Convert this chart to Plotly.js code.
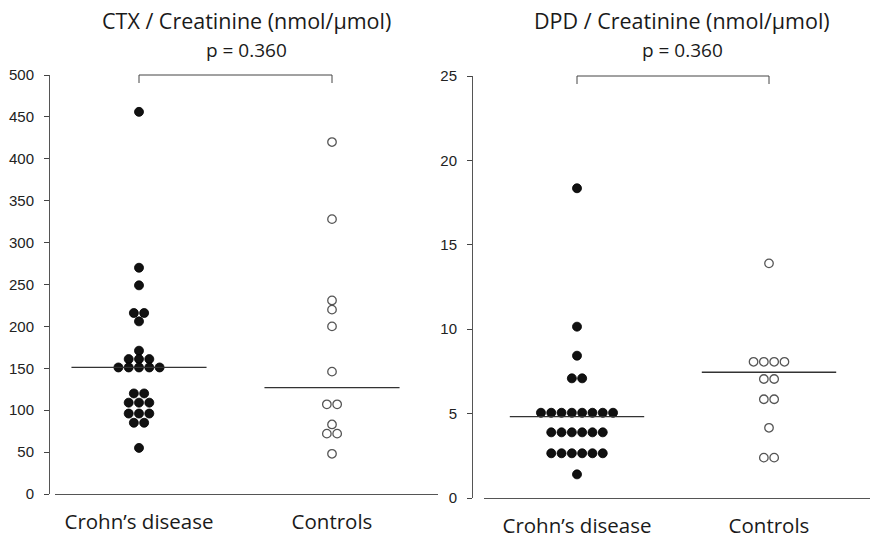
<!DOCTYPE html>
<html><head><meta charset="utf-8">
<script src="https://cdn.plot.ly/plotly-3.0.1.min.js"></script>
<style>html,body{margin:0;padding:0;background:#fff}#chart{width:876px;height:538px}</style>
</head><body><div id="chart"></div>
<script>
// ---- data ----
const groups = ["Crohn\u2019s disease", "Controls"];
const panelTitles = ["CTX / Creatinine (nmol/\u00b5mol)", "DPD / Creatinine (nmol/\u00b5mol)"];
const pLabels = ["p = 0.360", "p = 0.360"];
const ctxCrohn = [456, 270, 249, 216, 216, 206, 171, 161, 161, 161, 151, 151, 151, 151, 151, 120, 120, 109, 109, 109, 96, 96, 96, 85, 85, 55];
const ctxControls = [420, 328, 231, 220, 200, 146, 107, 107, 83, 72, 72, 48];
const dpdCrohn = [18.35, 10.15, 8.43, 7.09, 7.09, 5.05, 5.05, 5.05, 5.05, 5.05, 5.05, 5.05, 5.05, 3.89, 3.89, 3.89, 3.89, 3.89, 3.89, 2.65, 2.65, 2.65, 2.65, 2.65, 2.65, 1.4];
const dpdControls = [13.9, 8.07, 8.07, 8.07, 8.07, 7.05, 7.05, 5.85, 5.85, 4.16, 2.39, 2.39];
const ctxMedians = [151, 127];
const dpdMedians = [4.82, 7.45];
const ctxTicks = [0, 50, 100, 150, 200, 250, 300, 350, 400, 450, 500];
const dpdTicks = [0, 5, 10, 15, 20, 25];

// ---- geometry (pixels) ----
const W = 876, H = 538;
const geo = [
  {yAxisX: 49, xL: 55, xR: 438, yTop: 75, yBot: 494, c0: 139, c1: 332, yMax: 500, tx: 246},
  {yAxisX: 472, xL: 484, xR: 870, yTop: 76, yBot: 498, c0: 577, c1: 769, yMax: 25, tx: 682}
];
const SPACING = 10.3; // px between dots with equal value
const MED_HALF = 0.35;

function spreadX(values, center, unitPx) {
  const counts = {}, seen = {};
  values.forEach(v => counts[v] = (counts[v] || 0) + 1);
  return values.map(v => {
    const i = seen[v] = (seen[v] === undefined ? 0 : seen[v] + 1);
    return center + (i - (counts[v] - 1) / 2) * SPACING / unitPx;
  });
}

const panels = [
  {crohn: ctxCrohn, ctrl: ctxControls, med: ctxMedians, ticks: ctxTicks},
  {crohn: dpdCrohn, ctrl: dpdControls, med: dpdMedians, ticks: dpdTicks}
];

const traces = [], shapes = [], annotations = [];
const layout = {
  width: W, height: H, margin: {l: 0, r: 0, t: 0, b: 0},
  paper_bgcolor: '#fff', plot_bgcolor: '#fff', showlegend: false,
  font: {family: 'Liberation Sans, Arial, sans-serif', color: '#222'}
};

panels.forEach((p, k) => {
  const g = geo[k];
  const unit = g.c1 - g.c0;
  const xa = k === 0 ? 'x' : 'x2', ya = k === 0 ? 'y' : 'y2';
  const xKey = k === 0 ? 'xaxis' : 'xaxis2', yKey = k === 0 ? 'yaxis' : 'yaxis2';
  layout[xKey] = {
    domain: [g.xL / W, g.xR / W], anchor: ya,
    range: [(g.xL - g.c0) / unit, (g.xR - g.c0) / unit],
    showline: true, linecolor: '#555', linewidth: 1, showgrid: false, zeroline: false,
    ticks: '', tickvals: [0, 1], ticktext: groups, ticklabelstandoff: 9,
    tickfont: {family: 'Open Sans, Noto Sans, sans-serif', size: 20.5, color: '#1a1a1a'},
    fixedrange: true
  };
  layout[yKey] = {
    domain: [1 - g.yBot / H, 1 - g.yTop / H], anchor: 'free', position: g.yAxisX / W,
    range: [0, g.yMax], tickvals: p.ticks, ticks: 'outside', ticklen: 5, tickcolor: '#444',
    showline: true, linecolor: '#555', linewidth: 1, showgrid: false, zeroline: false,
    ticklabelstandoff: 7,
    tickfont: {family: 'Liberation Sans, Arial, sans-serif', size: 15, color: '#222'},
    fixedrange: true
  };
  // dots
  traces.push({
    type: 'scatter', mode: 'markers', xaxis: xa, yaxis: ya,
    x: spreadX(p.crohn, 0, unit), y: p.crohn,
    marker: {size: 9, color: '#111', line: {width: 0.8, color: '#000'}}, hoverinfo: 'y'
  });
  traces.push({
    type: 'scatter', mode: 'markers', xaxis: xa, yaxis: ya,
    x: spreadX(p.ctrl, 1, unit), y: p.ctrl,
    marker: {size: 8.5, color: '#fff', line: {width: 1.3, color: '#555'}}, hoverinfo: 'y'
  });
  // medians
  [0, 1].forEach(c => {
    traces.push({
      type: 'scatter', mode: 'lines', xaxis: xa, yaxis: ya,
      x: [c - MED_HALF, c + MED_HALF], y: [p.med[c], p.med[c]],
      line: {color: '#333', width: 1.3}, hoverinfo: 'skip'
    });
  });
  // bracket
  const yt = 1 - g.yTop / H, yb = 1 - (g.yTop + 8) / H;
  shapes.push({
    type: 'path', xref: xa, yref: 'paper',
    path: `M0,${yb} L0,${yt} L1,${yt} L1,${yb}`,
    line: {color: '#444', width: 1}
  });
  // titles
  const cx = g.tx / W;
  annotations.push({
    xref: 'paper', yref: 'paper', x: cx, y: 1 - 20 / H, xanchor: 'center', yanchor: 'middle',
    text: panelTitles[k], showarrow: false,
    font: {family: 'Open Sans, Noto Sans, sans-serif', size: 21.5, color: '#1a1a1a'}
  });
  annotations.push({
    xref: 'paper', yref: 'paper', x: cx, y: 1 - 50 / H, xanchor: 'center', yanchor: 'middle',
    text: pLabels[k], showarrow: false,
    font: {family: 'Open Sans, Noto Sans, sans-serif', size: 19, color: '#1a1a1a'}
  });
});

layout.shapes = shapes;
layout.annotations = annotations;
Plotly.newPlot('chart', traces, layout, {displayModeBar: false, staticPlot: true});
</script>
</body></html>
